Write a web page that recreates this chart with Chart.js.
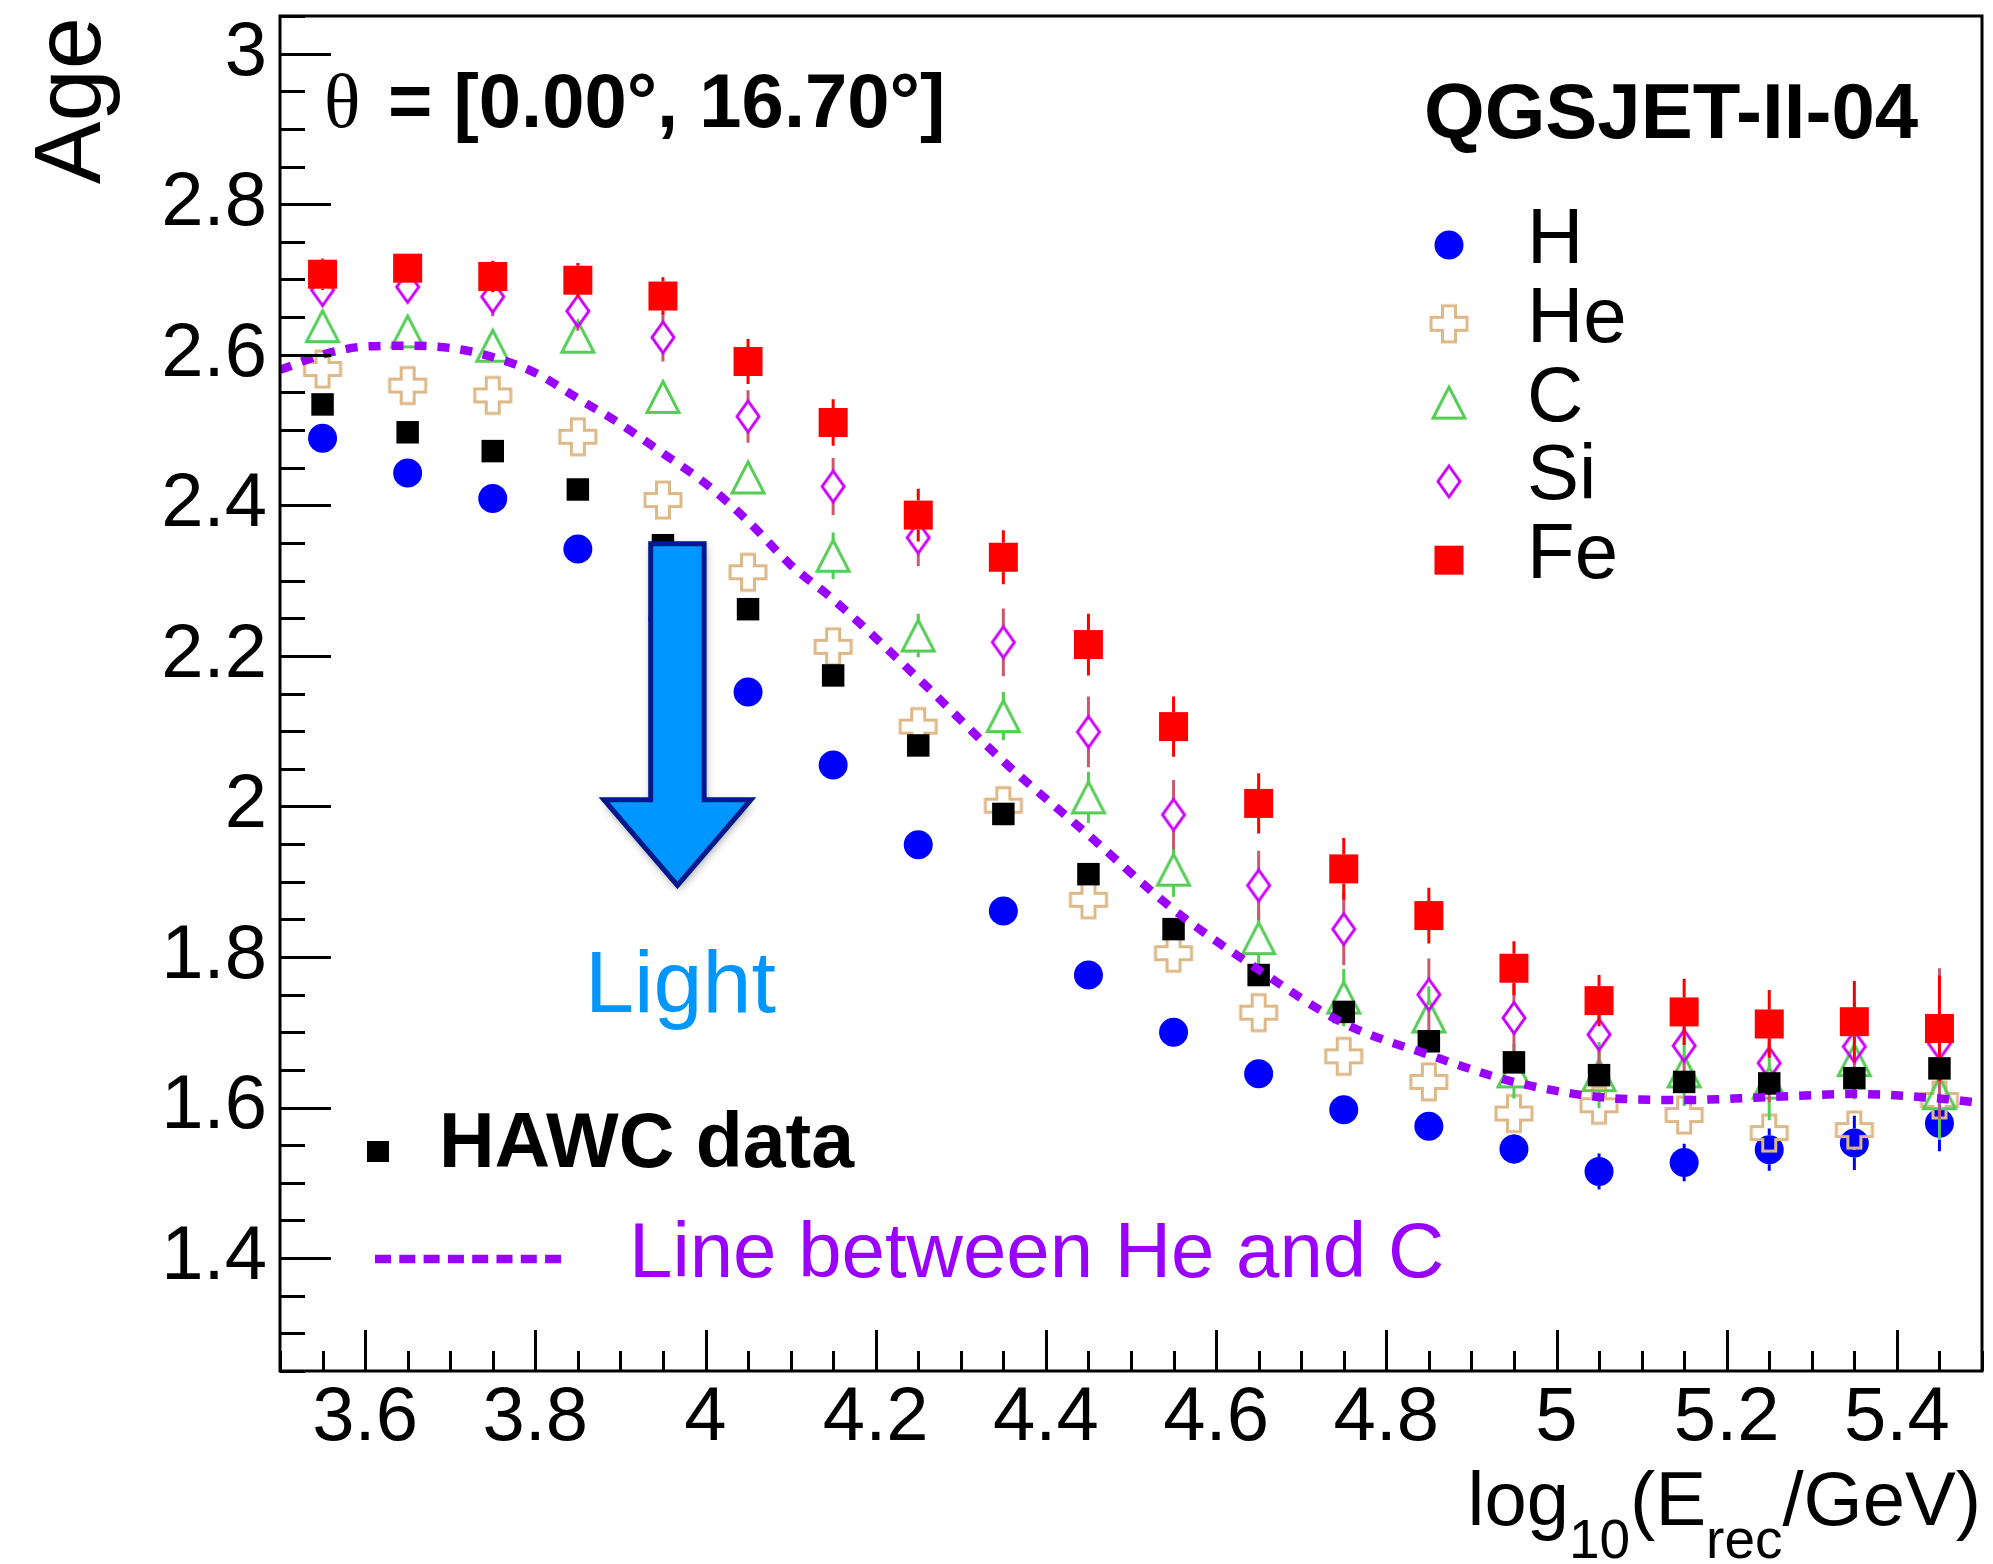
<!DOCTYPE html>
<html>
<head>
<meta charset="utf-8">
<title>Shower age vs reconstructed energy</title>
<script src="https://cdn.jsdelivr.net/npm/chart.js@4.4.1/dist/chart.umd.min.js"></script>
<style>
  html, body { margin: 0; padding: 0; background: #ffffff; }
  canvas { display: block; }
</style>
</head>
<body>
<canvas id="chart" width="1993" height="1564"></canvas>
<script>
// ---- data: mean shower age per log10(E_rec/GeV) bin ----
const energyBins = [3.55, 3.65, 3.75, 3.85, 3.95, 4.05, 4.15, 4.25, 4.35, 4.45,
                    4.55, 4.65, 4.75, 4.85, 4.95, 5.05, 5.15, 5.25, 5.35, 5.45];

const ageH    = [2.489, 2.443, 2.409, 2.342, 2.250, 2.152, 2.055, 1.949, 1.861, 1.776,
                 1.700, 1.645, 1.597, 1.575, 1.545, 1.515, 1.527, 1.544, 1.553, 1.579];
const ageHe   = [2.581, 2.559, 2.546, 2.491, 2.407, 2.311, 2.212, 2.106, 2.001, 1.876,
                 1.805, 1.726, 1.668, 1.634, 1.592, 1.603, 1.590, 1.566, 1.570, 1.610];
const ageC    = [2.638, 2.631, 2.612, 2.624, 2.544, 2.437, 2.333, 2.227, 2.120, 2.012,
                 1.916, 1.825, 1.746, 1.721, 1.648, 1.643, 1.648, 1.633, 1.663, 1.619];
const ageSi   = [2.686, 2.690, 2.677, 2.658, 2.623, 2.518, 2.425, 2.357, 2.218, 2.099,
                 1.989, 1.895, 1.837, 1.750, 1.719, 1.697, 1.682, 1.659, 1.681, 1.685];
const ageFe   = [2.707, 2.715, 2.704, 2.699, 2.678, 2.591, 2.510, 2.387, 2.331, 2.215,
                 2.106, 2.004, 1.917, 1.855, 1.785, 1.742, 1.727, 1.711, 1.714, 1.705];
const ageHAWC = [2.534, 2.497, 2.472, 2.421, 2.347, 2.262, 2.174, 2.081, 1.990, 1.910,
                 1.837, 1.776, 1.727, 1.688, 1.660, 1.643, 1.634, 1.632, 1.639, 1.652];

// statistical uncertainties of the simulated samples
const errH  = [0.005, 0.005, 0.005, 0.006, 0.006, 0.007, 0.007, 0.008, 0.009, 0.010,
               0.011, 0.012, 0.014, 0.016, 0.020, 0.024, 0.025, 0.028, 0.036, 0.037];
const errHe = [0.004, 0.004, 0.005, 0.005, 0.006, 0.006, 0.007, 0.008, 0.009, 0.010,
               0.011, 0.012, 0.013, 0.015, 0.017, 0.019, 0.021, 0.024, 0.026, 0.030];
const errC  = [0.008, 0.008, 0.009, 0.010, 0.012, 0.020, 0.031, 0.029, 0.032, 0.034,
               0.036, 0.038, 0.038, 0.040, 0.036, 0.044, 0.046, 0.050, 0.052, 0.062];
const errSi = [0.022, 0.020, 0.026, 0.026, 0.032, 0.035, 0.038, 0.038, 0.045, 0.047,
               0.046, 0.046, 0.048, 0.048, 0.045, 0.046, 0.050, 0.052, 0.060, 0.100];
const errFe = [0.021, 0.016, 0.021, 0.023, 0.025, 0.030, 0.031, 0.035, 0.036, 0.041,
               0.040, 0.040, 0.041, 0.037, 0.036, 0.034, 0.044, 0.045, 0.054, 0.070];

// separation curve between He and C
const sepX = [3.50, 3.55, 3.60, 3.65, 3.70, 3.75, 3.80, 3.85, 3.90, 3.95, 4.00, 4.05, 4.10, 4.15,
              4.25, 4.35, 4.45, 4.55, 4.65, 4.75, 4.85, 4.95, 5.05, 5.15, 5.25, 5.35, 5.45, 5.50];
const sepY = [2.580, 2.600, 2.611, 2.612, 2.609, 2.597, 2.576, 2.542, 2.508, 2.469, 2.429, 2.379, 2.321, 2.275,
              2.170, 2.060, 1.962, 1.863, 1.783, 1.712, 1.670, 1.634, 1.614, 1.610, 1.614, 1.618, 1.612, 1.606];

// axis tick labels
const xTickValues = [3.6, 3.8, 4.0, 4.2, 4.4, 4.6, 4.8, 5.0, 5.2, 5.4];
const yTickValues = [1.4, 1.6, 1.8, 2.0, 2.2, 2.4, 2.6, 2.8, 3.0];

// ---- colours ----
const COL_H = '#0000ff', COL_HE = '#deb887', COL_C = '#55cc55', COL_SI = '#cc00ff',
      COL_SI_ERR = '#c85a6e', COL_FE = '#ff0000', COL_SEP = '#9900ff', COL_LIGHT = '#0096ff';

const FONT = '"Liberation Sans", Arial, Helvetica, sans-serif';
const SERIF = '"Liberation Serif", "Times New Roman", serif';

// ---- open marker sprites ----
function sprite(w, h, draw) {
  const c = document.createElement('canvas');
  c.width = w; c.height = h;
  const g = c.getContext('2d');
  g.translate(w / 2, h / 2);
  draw(g);
  return c;
}
const openCross = sprite(44, 44, g => {
  const s = 18, a = 6.5;
  g.beginPath();
  g.moveTo(-a, -s); g.lineTo(a, -s); g.lineTo(a, -a); g.lineTo(s, -a); g.lineTo(s, a);
  g.lineTo(a, a); g.lineTo(a, s); g.lineTo(-a, s); g.lineTo(-a, a); g.lineTo(-s, a);
  g.lineTo(-s, -a); g.lineTo(-a, -a); g.closePath();
  g.strokeStyle = COL_HE; g.lineWidth = 3; g.lineJoin = 'miter'; g.stroke();
});
const openTriangle = sprite(40, 40, g => {
  g.beginPath();
  g.moveTo(0, -15.5); g.lineTo(16, 15.5); g.lineTo(-16, 15.5); g.closePath();
  g.strokeStyle = COL_C; g.lineWidth = 3; g.lineJoin = 'miter'; g.stroke();
});
const openDiamond = sprite(30, 40, g => {
  g.beginPath();
  g.moveTo(0, -15.5); g.lineTo(11, 0); g.lineTo(0, 15.5); g.lineTo(-11, 0); g.closePath();
  g.strokeStyle = COL_SI; g.lineWidth = 3; g.lineJoin = 'miter'; g.stroke();
});

function points(values) {
  return energyBins.map((x, i) => ({ x: x, y: values[i] }));
}

// ---- plugins ----
const errorBars = {
  id: 'errorBars',
  beforeDatasetDraw(chart, args) {
    const ds = chart.data.datasets[args.index];
    if (!ds.errors) return;
    const ctx = chart.ctx, a = chart.chartArea, ys = chart.scales.y;
    ctx.save();
    ctx.beginPath();
    ctx.rect(a.left, a.top, a.right - a.left, a.bottom - a.top);
    ctx.clip();
    ctx.strokeStyle = ds.errorColor;
    ctx.lineWidth = 3;
    args.meta.data.forEach((pt, i) => {
      const v = ds.data[i].y, e = ds.errors[i];
      const yTop = ys.getPixelForValue(v + e);
      const yBot = ys.getPixelForValue(v - e);
      const gap = ds.errorGap;
      ctx.beginPath();
      if (pt.y - gap > yTop) { ctx.moveTo(pt.x, yTop); ctx.lineTo(pt.x, pt.y - gap); }
      if (pt.y + gap < yBot) { ctx.moveTo(pt.x, pt.y + gap); ctx.lineTo(pt.x, yBot); }
      ctx.stroke();
    });
    ctx.restore();
  }
};

const frameAndTicks = {
  id: 'frameAndTicks',
  afterDatasetsDraw(chart) {
    const ctx = chart.ctx, a = chart.chartArea, xs = chart.scales.x, ys = chart.scales.y;
    ctx.save();
    ctx.strokeStyle = '#000';
    ctx.lineWidth = 3;
    ctx.lineCap = 'butt';
    ctx.beginPath();
    // minor ticks every 0.05
    for (let k = Math.ceil(ys.min / 0.05 - 1e-6); k * 0.05 <= ys.max + 1e-6; k++) {
      const py = Math.round(ys.getPixelForValue(k * 0.05)) + 0.5;
      ctx.moveTo(a.left, py); ctx.lineTo(a.left + 25, py);
    }
    for (let k = Math.ceil(xs.min / 0.05 - 1e-6); k * 0.05 <= xs.max + 1e-6; k++) {
      const px = Math.round(xs.getPixelForValue(k * 0.05)) + 0.5;
      ctx.moveTo(px, a.bottom); ctx.lineTo(px, a.bottom - 20);
    }
    // major ticks
    ys.ticks.forEach(t => {
      const py = Math.round(ys.getPixelForValue(t.value)) + 0.5;
      ctx.moveTo(a.left, py); ctx.lineTo(a.left + 51, py);
    });
    xs.ticks.forEach(t => {
      const px = Math.round(xs.getPixelForValue(t.value)) + 0.5;
      ctx.moveTo(px, a.bottom); ctx.lineTo(px, a.bottom - 41);
    });
    ctx.stroke();
    ctx.strokeRect(a.left, a.top, a.right - a.left, a.bottom - a.top);
    ctx.restore();
  }
};

const annotations = {
  id: 'annotations',
  afterDraw(chart) {
    const ctx = chart.ctx, xs = chart.scales.x, ys = chart.scales.y;
    ctx.save();
    ctx.textBaseline = 'alphabetic';

    // "Light" arrow
    const ax = xs.getPixelForValue(3.967);
    const yTop = ys.getPixelForValue(2.349);
    const yHead = ys.getPixelForValue(2.009);
    const yTip = ys.getPixelForValue(1.895);
    const sw = 26.7, hw = 73.5;
    const arrow = new Path2D();
    arrow.moveTo(ax - sw, yTop);
    arrow.lineTo(ax + sw, yTop);
    arrow.lineTo(ax + sw, yHead);
    arrow.lineTo(ax + hw, yHead);
    arrow.lineTo(ax, yTip);
    arrow.lineTo(ax - hw, yHead);
    arrow.lineTo(ax - sw, yHead);
    arrow.closePath();
    ctx.save();
    ctx.shadowColor = 'rgba(0,0,0,0.45)';
    ctx.shadowBlur = 10;
    ctx.shadowOffsetX = 1;
    ctx.shadowOffsetY = 3;
    ctx.fillStyle = COL_LIGHT;
    ctx.fill(arrow);
    ctx.restore();
    ctx.lineJoin = 'miter';
    ctx.lineWidth = 5;
    ctx.strokeStyle = '#00198c';
    ctx.stroke(arrow);

    ctx.fillStyle = COL_LIGHT;
    ctx.font = '88px ' + FONT;
    ctx.textAlign = 'left';
    ctx.fillText('Light', 585, 1012);

    // theta range
    ctx.fillStyle = '#000';
    ctx.font = '76px ' + SERIF;
    ctx.fillText('\u03B8', 324, 127);
    ctx.font = 'bold 76px ' + FONT;
    ctx.fillText('= [0.00\u00B0, 16.70\u00B0]', 388, 127);

    // interaction model
    ctx.font = 'bold 78px ' + FONT;
    ctx.fillText('QGSJET-II-04', 1424, 138);

    // primary legend
    const legX = 1449, labX = 1527, base0 = 263, step = 78.8;
    const entries = [
      { label: 'H', draw: (x, y) => { ctx.fillStyle = COL_H; ctx.beginPath(); ctx.arc(x, y, 14.5, 0, 2 * Math.PI); ctx.fill(); } },
      { label: 'He', draw: (x, y) => ctx.drawImage(openCross, x - openCross.width / 2, y - openCross.height / 2) },
      { label: 'C', draw: (x, y) => ctx.drawImage(openTriangle, x - openTriangle.width / 2, y - openTriangle.height / 2) },
      { label: 'Si', draw: (x, y) => ctx.drawImage(openDiamond, x - openDiamond.width / 2, y - openDiamond.height / 2) },
      { label: 'Fe', draw: (x, y) => { ctx.fillStyle = COL_FE; ctx.fillRect(x - 14.5, y - 14.5, 29, 29); } }
    ];
    ctx.font = '78px ' + FONT;
    entries.forEach((e, i) => {
      const base = base0 + i * step;
      e.draw(legX, base - 18);
      ctx.fillStyle = '#000';
      ctx.fillText(e.label, labX, base);
    });

    // data / separation legend
    ctx.fillStyle = '#000';
    ctx.fillRect(367, 1141, 22, 21);
    ctx.font = 'bold 77px ' + FONT;
    ctx.fillText('HAWC data', 439, 1167);

    ctx.save();
    ctx.strokeStyle = COL_SEP;
    ctx.lineWidth = 8.5;
    ctx.setLineDash([16, 8.3]);
    ctx.beginPath();
    ctx.moveTo(375, 1259);
    ctx.lineTo(568, 1259);
    ctx.stroke();
    ctx.restore();
    ctx.fillStyle = COL_SEP;
    ctx.font = '78px ' + FONT;
    ctx.fillText('Line between He and C', 629, 1277);

    // y-axis title
    ctx.save();
    ctx.fillStyle = '#000';
    ctx.font = '94px ' + FONT;
    ctx.translate(100, 17);
    ctx.rotate(-Math.PI / 2);
    ctx.textAlign = 'right';
    ctx.fillText('Age', 0, 0);
    ctx.restore();

    // x-axis title: log10(Erec/GeV)
    const big = '76px ' + FONT, small = '55px ' + FONT;
    const parts = [
      { t: 'log', f: big, dy: 0 },
      { t: '10', f: small, dy: 33 },
      { t: '(E', f: big, dy: 0 },
      { t: 'rec', f: small, dy: 33 },
      { t: '/GeV)', f: big, dy: 0 }
    ];
    let total = 0;
    parts.forEach(p => { ctx.font = p.f; p.w = ctx.measureText(p.t).width; total += p.w; });
    let cx = 1981 - total;
    ctx.fillStyle = '#000';
    ctx.textAlign = 'left';
    parts.forEach(p => { ctx.font = p.f; ctx.fillText(p.t, cx, 1525 + p.dy); cx += p.w; });

    ctx.restore();
  }
};

function fmtTick(v) { return String(Number(Number(v).toFixed(2))); }

const tickFont = { family: FONT, size: 76, lineHeight: 1 };

new Chart(document.getElementById('chart'), {
  type: 'scatter',
  data: {
    datasets: [
      {
        type: 'line',
        label: 'Line between He and C',
        data: sepX.map((x, i) => ({ x: x, y: sepY[i] })),
        borderColor: COL_SEP,
        borderWidth: 8.5,
        borderDash: [12, 11],
        borderCapStyle: 'butt',
        cubicInterpolationMode: 'monotone',
        pointRadius: 0,
        fill: false,
        showLine: true
      },
      {
        label: 'HAWC data',
        data: points(ageHAWC),
        pointStyle: 'rect',
        pointRadius: 15.9,
        pointBackgroundColor: '#000',
        pointBorderWidth: 0
      },
      {
        label: 'Fe',
        data: points(ageFe),
        errors: errFe, errorColor: COL_FE, errorGap: 14.5,
        pointStyle: 'rect',
        pointRadius: 20.5,
        pointBackgroundColor: COL_FE,
        pointBorderWidth: 0
      },
      {
        label: 'Si',
        data: points(ageSi),
        errors: errSi, errorColor: COL_SI_ERR, errorGap: 15.5,
        pointStyle: openDiamond,
        pointRadius: 15
      },
      {
        label: 'C',
        data: points(ageC),
        errors: errC, errorColor: COL_C, errorGap: 15.5,
        pointStyle: openTriangle,
        pointRadius: 16
      },
      {
        label: 'He',
        data: points(ageHe),
        errors: errHe, errorColor: COL_HE, errorGap: 18,
        pointStyle: openCross,
        pointRadius: 18
      },
      {
        label: 'H',
        data: points(ageH),
        errors: errH, errorColor: COL_H, errorGap: 14.5,
        pointStyle: 'circle',
        pointRadius: 14.5,
        pointBackgroundColor: COL_H,
        pointBorderWidth: 0
      }
    ]
  },
  options: {
    responsive: false,
    animation: false,
    devicePixelRatio: 1,
    events: [],
    layout: { autoPadding: false, padding: { left: 0, top: 16, right: 11, bottom: 0 } },
    plugins: { legend: { display: false }, tooltip: { enabled: false } },
    elements: { point: { hoverRadius: 0 } },
    scales: {
      x: {
        type: 'linear',
        min: 3.5,
        max: 5.5,
        afterBuildTicks: s => { s.ticks = xTickValues.map(v => ({ value: v })); },
        afterFit: s => { s.height = 193; s.paddingLeft = 0; s.paddingRight = 0; },
        ticks: { font: tickFont, color: '#000', padding: 10, autoSkip: false, maxRotation: 0, callback: fmtTick },
        grid: { display: false, drawTicks: false },
        border: { display: false }
      },
      y: {
        type: 'linear',
        min: 1.25,
        max: 3.05,
        afterBuildTicks: s => { s.ticks = yTickValues.map(v => ({ value: v })); },
        afterFit: s => { s.width = 280; s.paddingTop = 0; s.paddingBottom = 0; },
        ticks: { font: tickFont, color: '#000', padding: 13, autoSkip: false, callback: fmtTick },
        grid: { display: false, drawTicks: false },
        border: { display: false }
      }
    }
  },
  plugins: [errorBars, frameAndTicks, annotations]
});
</script>
</body>
</html>
